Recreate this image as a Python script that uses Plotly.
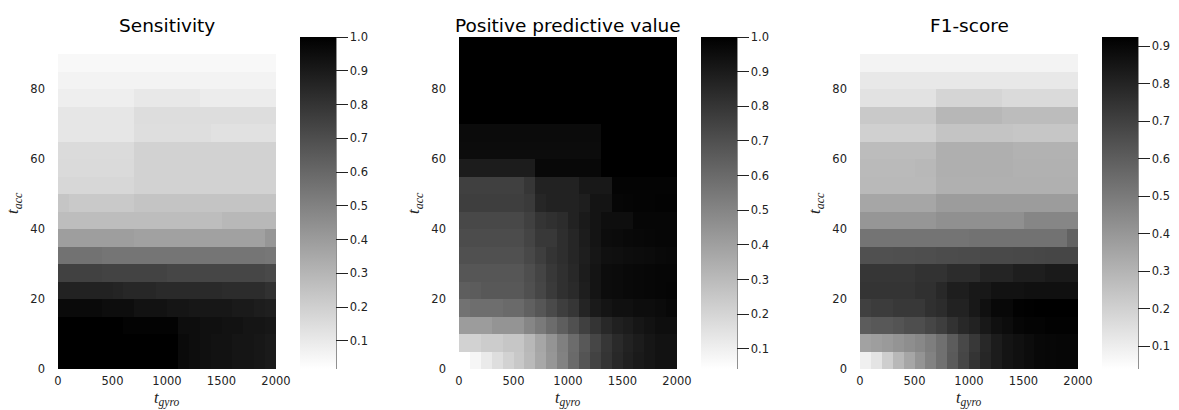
import plotly.graph_objects as go

# ---------------- data ----------------
t_gyro = [50, 150, 250, 350, 450, 550, 650, 750, 850, 950,
          1050, 1150, 1250, 1350, 1450, 1550, 1650, 1750, 1850, 1950]
t_acc = [2.5, 7.5, 12.5, 17.5, 22.5, 27.5, 32.5, 37.5, 42.5, 47.5,
         52.5, 57.5, 62.5, 67.5, 72.5, 77.5, 82.5, 87.5, 92.5]

x_ticks = [0, 500, 1000, 1500, 2000]
y_ticks = [0, 20, 40, 60, 80]
cb_ticks_sens = [0.1, 0.2, 0.3, 0.4, 0.5, 0.6, 0.7, 0.8, 0.9, 1.0]
cb_ticks_ppv = [0.1, 0.2, 0.3, 0.4, 0.5, 0.6, 0.7, 0.8, 0.9, 1.0]
cb_ticks_f1 = [0.1, 0.2, 0.3, 0.4, 0.5, 0.6, 0.7, 0.8, 0.9]

titles = ["Sensitivity", "Positive predictive value", "F1-score"]

sensitivity = [
    [1.00, 1.00, 1.00, 1.00, 1.00, 1.00, 1.00, 1.00, 1.00, 1.00, 1.00, 0.96, 0.95, 0.94, 0.93, 0.93, 0.92, 0.92, 0.91, 0.90],
    [1.00, 1.00, 1.00, 1.00, 1.00, 1.00, 1.00, 1.00, 1.00, 1.00, 1.00, 0.96, 0.95, 0.94, 0.93, 0.93, 0.92, 0.92, 0.91, 0.90],
    [1.00, 1.00, 1.00, 1.00, 1.00, 1.00, 0.99, 0.99, 0.99, 0.99, 0.99, 0.95, 0.95, 0.94, 0.94, 0.93, 0.93, 0.92, 0.92, 0.91],
    [0.96, 0.96, 0.96, 0.96, 0.95, 0.95, 0.95, 0.93, 0.93, 0.93, 0.92, 0.92, 0.91, 0.91, 0.91, 0.91, 0.90, 0.90, 0.89, 0.88],
    [0.87, 0.87, 0.87, 0.87, 0.87, 0.86, 0.85, 0.85, 0.85, 0.84, 0.84, 0.84, 0.84, 0.84, 0.84, 0.83, 0.83, 0.83, 0.83, 0.81],
    [0.75, 0.75, 0.75, 0.75, 0.74, 0.74, 0.74, 0.74, 0.74, 0.74, 0.73, 0.73, 0.73, 0.73, 0.73, 0.73, 0.73, 0.73, 0.73, 0.72],
    [0.56, 0.56, 0.56, 0.56, 0.55, 0.55, 0.55, 0.55, 0.55, 0.55, 0.55, 0.55, 0.55, 0.55, 0.55, 0.55, 0.55, 0.55, 0.55, 0.54],
    [0.39, 0.39, 0.39, 0.39, 0.39, 0.39, 0.39, 0.38, 0.38, 0.38, 0.38, 0.38, 0.38, 0.38, 0.38, 0.38, 0.38, 0.38, 0.38, 0.42],
    [0.27, 0.27, 0.27, 0.27, 0.27, 0.27, 0.27, 0.27, 0.27, 0.27, 0.27, 0.27, 0.27, 0.27, 0.27, 0.29, 0.29, 0.29, 0.29, 0.29],
    [0.24, 0.225, 0.225, 0.225, 0.225, 0.225, 0.225, 0.245, 0.245, 0.245, 0.245, 0.245, 0.245, 0.245, 0.245, 0.245, 0.245, 0.245, 0.245, 0.245],
    [0.17, 0.17, 0.17, 0.17, 0.17, 0.17, 0.17, 0.19, 0.19, 0.19, 0.19, 0.19, 0.19, 0.19, 0.19, 0.19, 0.19, 0.19, 0.19, 0.19],
    [0.16, 0.16, 0.16, 0.16, 0.16, 0.16, 0.16, 0.19, 0.19, 0.19, 0.19, 0.19, 0.19, 0.19, 0.19, 0.19, 0.19, 0.19, 0.19, 0.19],
    [0.155, 0.155, 0.155, 0.155, 0.155, 0.155, 0.155, 0.19, 0.19, 0.19, 0.19, 0.19, 0.19, 0.19, 0.19, 0.19, 0.19, 0.19, 0.19, 0.19],
    [0.113, 0.113, 0.113, 0.113, 0.113, 0.113, 0.113, 0.145, 0.145, 0.145, 0.145, 0.145, 0.145, 0.145, 0.133, 0.133, 0.133, 0.133, 0.133, 0.133],
    [0.113, 0.113, 0.113, 0.113, 0.113, 0.113, 0.113, 0.148, 0.148, 0.148, 0.148, 0.148, 0.148, 0.148, 0.148, 0.148, 0.148, 0.148, 0.148, 0.148],
    [0.083, 0.083, 0.083, 0.083, 0.083, 0.083, 0.083, 0.106, 0.106, 0.106, 0.106, 0.106, 0.106, 0.09, 0.09, 0.09, 0.09, 0.09, 0.09, 0.09],
    [0.063, 0.063, 0.063, 0.063, 0.063, 0.063, 0.063, 0.063, 0.063, 0.063, 0.063, 0.063, 0.063, 0.063, 0.063, 0.063, 0.063, 0.063, 0.063, 0.063],
    [0.044, 0.044, 0.044, 0.044, 0.044, 0.044, 0.044, 0.044, 0.044, 0.044, 0.044, 0.044, 0.044, 0.044, 0.044, 0.044, 0.044, 0.044, 0.044, 0.044],
    [0.017, 0.017, 0.017, 0.017, 0.017, 0.017, 0.017, 0.017, 0.017, 0.017, 0.017, 0.017, 0.017, 0.017, 0.017, 0.017, 0.017, 0.017, 0.017, 0.017],
]

ppv = [
    [0.042, 0.076, 0.121, 0.166, 0.211, 0.249, 0.301, 0.369, 0.436, 0.511, 0.601, 0.684, 0.752, 0.805, 0.850, 0.880, 0.902, 0.917, 0.932, 0.932],
    [0.211, 0.211, 0.234, 0.234, 0.256, 0.256, 0.309, 0.376, 0.444, 0.519, 0.594, 0.669, 0.737, 0.797, 0.842, 0.872, 0.895, 0.917, 0.932, 0.932],
    [0.414, 0.414, 0.414, 0.444, 0.444, 0.444, 0.496, 0.541, 0.594, 0.647, 0.699, 0.760, 0.805, 0.850, 0.880, 0.895, 0.917, 0.932, 0.947, 0.947],
    [0.571, 0.586, 0.586, 0.586, 0.601, 0.601, 0.639, 0.677, 0.722, 0.767, 0.797, 0.865, 0.902, 0.925, 0.940, 0.940, 0.950, 0.950, 0.960, 0.970],
    [0.647, 0.654, 0.669, 0.669, 0.669, 0.669, 0.699, 0.737, 0.782, 0.820, 0.842, 0.887, 0.925, 0.955, 0.960, 0.965, 0.970, 0.975, 0.977, 0.980],
    [0.677, 0.677, 0.677, 0.677, 0.677, 0.677, 0.707, 0.745, 0.790, 0.820, 0.850, 0.895, 0.925, 0.955, 0.960, 0.965, 0.970, 0.975, 0.977, 0.977],
    [0.699, 0.699, 0.699, 0.699, 0.699, 0.699, 0.730, 0.767, 0.805, 0.827, 0.857, 0.887, 0.917, 0.940, 0.945, 0.950, 0.955, 0.960, 0.965, 0.970],
    [0.714, 0.714, 0.714, 0.714, 0.714, 0.714, 0.745, 0.790, 0.790, 0.827, 0.857, 0.895, 0.925, 0.955, 0.960, 0.965, 0.970, 0.975, 0.977, 0.977],
    [0.730, 0.730, 0.730, 0.730, 0.730, 0.730, 0.760, 0.805, 0.820, 0.835, 0.872, 0.902, 0.925, 0.947, 0.947, 0.947, 0.977, 0.977, 0.977, 0.977],
    [0.767, 0.767, 0.767, 0.767, 0.767, 0.767, 0.782, 0.857, 0.872, 0.872, 0.872, 0.887, 0.925, 0.925, 0.977, 0.980, 0.985, 0.985, 0.990, 0.990],
    [0.760, 0.760, 0.760, 0.760, 0.760, 0.760, 0.797, 0.872, 0.872, 0.872, 0.872, 0.910, 0.910, 0.910, 0.985, 0.985, 0.985, 0.985, 0.985, 0.985],
    [0.895, 0.895, 0.895, 0.895, 0.895, 0.895, 0.895, 0.970, 0.970, 0.970, 0.970, 0.970, 0.970, 1.000, 1.000, 1.000, 1.000, 1.000, 1.000, 1.000],
    [0.955, 0.955, 0.955, 0.955, 0.955, 0.955, 0.955, 0.955, 0.955, 0.955, 0.955, 0.955, 0.955, 1.000, 1.000, 1.000, 1.000, 1.000, 1.000, 1.000],
    [0.960, 0.960, 0.960, 0.960, 0.960, 0.960, 0.960, 0.960, 0.960, 0.960, 0.960, 0.960, 0.960, 1.000, 1.000, 1.000, 1.000, 1.000, 1.000, 1.000],
    [1.000, 1.000, 1.000, 1.000, 1.000, 1.000, 1.000, 1.000, 1.000, 1.000, 1.000, 1.000, 1.000, 1.000, 1.000, 1.000, 1.000, 1.000, 1.000, 1.000],
    [1.000, 1.000, 1.000, 1.000, 1.000, 1.000, 1.000, 1.000, 1.000, 1.000, 1.000, 1.000, 1.000, 1.000, 1.000, 1.000, 1.000, 1.000, 1.000, 1.000],
    [1.000, 1.000, 1.000, 1.000, 1.000, 1.000, 1.000, 1.000, 1.000, 1.000, 1.000, 1.000, 1.000, 1.000, 1.000, 1.000, 1.000, 1.000, 1.000, 1.000],
    [1.000, 1.000, 1.000, 1.000, 1.000, 1.000, 1.000, 1.000, 1.000, 1.000, 1.000, 1.000, 1.000, 1.000, 1.000, 1.000, 1.000, 1.000, 1.000, 1.000],
    [1.000, 1.000, 1.000, 1.000, 1.000, 1.000, 1.000, 1.000, 1.000, 1.000, 1.000, 1.000, 1.000, 1.000, 1.000, 1.000, 1.000, 1.000, 1.000, 1.000],
]

f1_score = [
    [0.091, 0.132, 0.209, 0.285, 0.348, 0.410, 0.473, 0.535, 0.612, 0.681, 0.744, 0.792, 0.827, 0.855, 0.868, 0.882, 0.896, 0.900, 0.903, 0.903],
    [0.362, 0.376, 0.389, 0.410, 0.431, 0.452, 0.486, 0.535, 0.605, 0.674, 0.730, 0.785, 0.827, 0.855, 0.868, 0.882, 0.896, 0.900, 0.903, 0.903],
    [0.605, 0.619, 0.619, 0.632, 0.653, 0.653, 0.681, 0.709, 0.750, 0.785, 0.806, 0.841, 0.868, 0.882, 0.903, 0.910, 0.910, 0.917, 0.917, 0.917],
    [0.702, 0.716, 0.716, 0.730, 0.730, 0.730, 0.757, 0.771, 0.806, 0.806, 0.841, 0.868, 0.896, 0.896, 0.917, 0.920, 0.924, 0.924, 0.924, 0.924],
    [0.744, 0.744, 0.744, 0.744, 0.744, 0.757, 0.757, 0.785, 0.820, 0.820, 0.841, 0.841, 0.861, 0.861, 0.861, 0.868, 0.868, 0.868, 0.868, 0.868],
    [0.737, 0.737, 0.737, 0.737, 0.737, 0.750, 0.750, 0.750, 0.771, 0.771, 0.771, 0.799, 0.799, 0.799, 0.820, 0.820, 0.820, 0.834, 0.834, 0.834],
    [0.645, 0.645, 0.648, 0.650, 0.650, 0.655, 0.655, 0.660, 0.660, 0.665, 0.665, 0.670, 0.670, 0.670, 0.675, 0.675, 0.678, 0.680, 0.680, 0.680],
    [0.520, 0.520, 0.520, 0.520, 0.520, 0.520, 0.520, 0.520, 0.520, 0.520, 0.530, 0.530, 0.530, 0.530, 0.530, 0.530, 0.530, 0.530, 0.530, 0.584],
    [0.403, 0.403, 0.403, 0.403, 0.403, 0.403, 0.403, 0.424, 0.424, 0.424, 0.424, 0.424, 0.424, 0.424, 0.424, 0.459, 0.459, 0.459, 0.459, 0.459],
    [0.348, 0.348, 0.348, 0.348, 0.348, 0.348, 0.348, 0.383, 0.383, 0.383, 0.383, 0.383, 0.383, 0.383, 0.383, 0.383, 0.383, 0.383, 0.383, 0.383],
    [0.282, 0.282, 0.282, 0.282, 0.282, 0.282, 0.282, 0.313, 0.313, 0.313, 0.313, 0.313, 0.313, 0.313, 0.313, 0.313, 0.313, 0.313, 0.313, 0.313],
    [0.278, 0.278, 0.278, 0.278, 0.278, 0.285, 0.285, 0.317, 0.317, 0.317, 0.317, 0.317, 0.317, 0.317, 0.310, 0.310, 0.310, 0.310, 0.310, 0.310],
    [0.271, 0.271, 0.271, 0.271, 0.271, 0.271, 0.271, 0.317, 0.317, 0.317, 0.317, 0.317, 0.317, 0.317, 0.306, 0.306, 0.306, 0.306, 0.306, 0.306],
    [0.202, 0.202, 0.202, 0.202, 0.202, 0.202, 0.202, 0.244, 0.244, 0.244, 0.244, 0.244, 0.244, 0.244, 0.237, 0.237, 0.237, 0.237, 0.237, 0.237],
    [0.226, 0.226, 0.226, 0.226, 0.226, 0.226, 0.226, 0.289, 0.289, 0.289, 0.289, 0.289, 0.289, 0.271, 0.271, 0.271, 0.271, 0.271, 0.271, 0.271],
    [0.139, 0.139, 0.139, 0.139, 0.139, 0.139, 0.139, 0.184, 0.184, 0.184, 0.184, 0.184, 0.184, 0.167, 0.167, 0.167, 0.167, 0.167, 0.167, 0.167],
    [0.119, 0.119, 0.119, 0.119, 0.119, 0.119, 0.119, 0.119, 0.119, 0.119, 0.119, 0.119, 0.119, 0.119, 0.119, 0.119, 0.119, 0.119, 0.119, 0.119],
    [0.080, 0.080, 0.080, 0.080, 0.080, 0.080, 0.080, 0.080, 0.080, 0.080, 0.080, 0.080, 0.080, 0.080, 0.080, 0.080, 0.080, 0.080, 0.080, 0.080],
    [0.039, 0.039, 0.039, 0.039, 0.039, 0.039, 0.039, 0.039, 0.039, 0.039, 0.039, 0.039, 0.039, 0.039, 0.039, 0.039, 0.039, 0.039, 0.039, 0.039],
]

# ---------------- layout geometry (pixels) ----------------
W, H = 1179, 410
plot_left = [58, 459, 860]
plot_w = 218
plot_top, plot_bot = 37, 369
cb_left = [300, 701, 1102]
cb_w = 36

def px(x):
    return x / W

def py(y):
    return 1 - y / H

greys = [[0, "#ffffff"], [1, "#000000"]]
sans = "DejaVu Sans"
serif = "Liberation Serif"

fig = go.Figure()
datasets = [sensitivity, ppv, f1_score]
cb_ticks = [cb_ticks_sens, cb_ticks_ppv, cb_ticks_f1]

annotations = []
shapes = []
for i, z in enumerate(datasets):
    xa = "x" if i == 0 else f"x{i+1}"
    ya = "y" if i == 0 else f"y{i+1}"
    fig.add_trace(go.Heatmap(
        x=t_gyro, y=t_acc, z=z,
        colorscale=greys,
        xaxis=xa, yaxis=ya,
        xgap=0, ygap=0,
        colorbar=dict(
            x=px(cb_left[i]), xanchor="left", xpad=0, ypad=0,
            y=py(plot_bot), yanchor="bottom",
            len=(plot_bot - plot_top) / H, lenmode="fraction",
            thickness=cb_w, thicknessmode="pixels",
            outlinewidth=0,
            tickvals=cb_ticks[i], tickformat=".1f",
            ticks="outside", ticklen=12, tickwidth=1, tickcolor="#222",
            tickfont=dict(family=sans, size=11.5, color="#222"),
        ),
    ))
    xkey = "xaxis" if i == 0 else f"xaxis{i+1}"
    ykey = "yaxis" if i == 0 else f"yaxis{i+1}"
    fig.update_layout(**{
        xkey: dict(domain=[px(plot_left[i]), px(plot_left[i] + plot_w)],
                   range=[0, 2000], tickvals=x_ticks, showgrid=False,
                   zeroline=False, showline=False, ticks="",
                   ticklabelstandoff=3, automargin=False,
                   tickfont=dict(family=sans, size=11.5, color="#222"),
                   anchor=ya),
        ykey: dict(domain=[py(plot_bot), py(plot_top)],
                   range=[0, 95], tickvals=y_ticks, showgrid=False,
                   zeroline=False, showline=False, ticks="",
                   ticklabelstandoff=12, automargin=False,
                   tickfont=dict(family=sans, size=11.5, color="#222"),
                   anchor=xa),
    })
    cx = plot_left[i] + plot_w / 2
    annotations.append(dict(
        text=titles[i], x=px(cx), y=py(25), xref="paper", yref="paper",
        xanchor="center", yanchor="middle", showarrow=False,
        font=dict(family=sans, size=18.5, color="#000")))
    annotations.append(dict(
        text="<i>t</i><sub><i>gyro</i></sub>", x=px(cx), y=py(410),
        xref="paper", yref="paper", xanchor="center", yanchor="bottom",
        borderpad=0, showarrow=False,
        font=dict(family=serif, size=16.5, color="#222")))
    annotations.append(dict(
        text="<i>t</i><sub><i>acc</i></sub>", x=px(plot_left[i] - 44),
        y=py((plot_top + plot_bot) / 2), xref="paper", yref="paper",
        xanchor="center", yanchor="middle", textangle=-90,
        showarrow=False, font=dict(family=serif, size=17, color="#222")))
    xl = px(cb_left[i] + cb_w)
    shapes.append(dict(type="line", xref="paper", yref="paper",
                       x0=xl, x1=xl, y0=py(plot_bot), y1=py(plot_top),
                       line=dict(color="#222", width=1)))

fig.update_layout(
    width=W, height=H,
    margin=dict(l=0, r=0, t=0, b=0, autoexpand=False),
    paper_bgcolor="white", plot_bgcolor="white",
    annotations=annotations, shapes=shapes,
    showlegend=False,
)

fig.write_html(
    "out.html",
    config={"displayModeBar": False},
    post_script="document.body.style.margin='0';document.body.style.overflow='hidden';",
)
